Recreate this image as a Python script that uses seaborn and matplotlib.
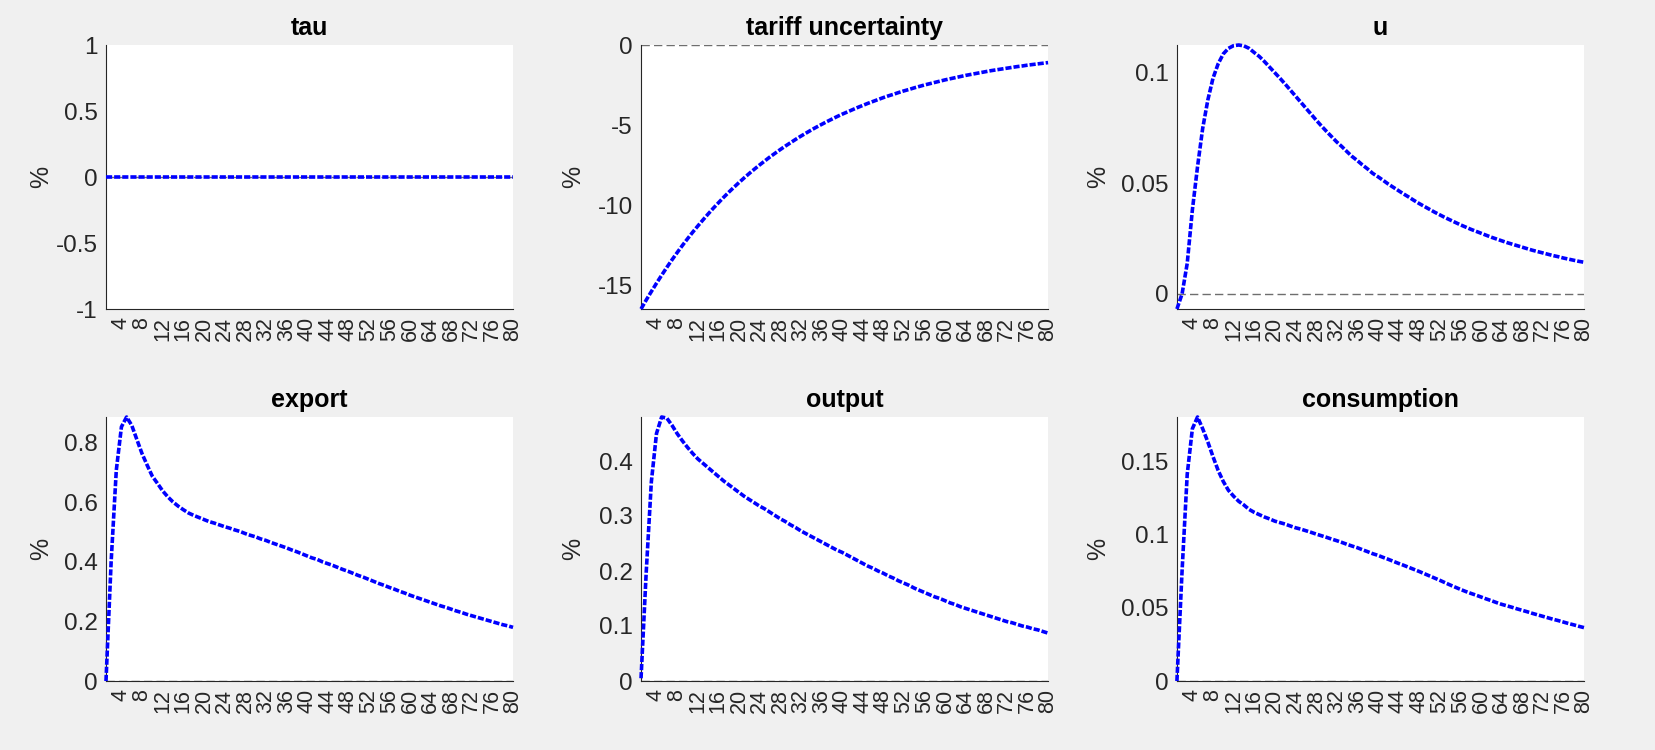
import numpy as np
import matplotlib
matplotlib.use("Agg")
import matplotlib.pyplot as plt
import matplotlib.ticker as mticker
import seaborn as sns

# impulse responses, periods 1..80
periods = np.arange(1, 81)

tau = [0.0] * 80

tariff_uncertainty = [
    -16.50, -15.94, -15.41, -14.89, -14.39, -13.90, -13.43, -12.98, -12.54, -12.12,
    -11.71, -11.32, -10.94, -10.57, -10.21, -9.87, -9.53, -9.21, -8.90, -8.60,
    -8.31, -8.03, -7.76, -7.50, -7.25, -7.00, -6.77, -6.54, -6.32, -6.11,
    -5.90, -5.70, -5.51, -5.32, -5.14, -4.97, -4.80, -4.64, -4.48, -4.33,
    -4.19, -4.05, -3.91, -3.78, -3.65, -3.53, -3.41, -3.29, -3.18, -3.08,
    -2.97, -2.87, -2.78, -2.68, -2.59, -2.50, -2.42, -2.34, -2.26, -2.18,
    -2.11, -2.04, -1.97, -1.90, -1.84, -1.78, -1.72, -1.66, -1.60, -1.55,
    -1.50, -1.45, -1.40, -1.35, -1.31, -1.26, -1.22, -1.18, -1.14, -1.10]

u = [
    -0.0068, 0.0000, 0.0138, 0.0379, 0.0574, 0.0747, 0.0875, 0.0973, 0.1038, 0.1083,
    0.1108, 0.1120, 0.1123, 0.1119, 0.1108, 0.1089, 0.1071, 0.1048, 0.1023, 0.0998,
    0.0973, 0.0947, 0.0920, 0.0893, 0.0866, 0.0839, 0.0812, 0.0785, 0.0759, 0.0734,
    0.0710, 0.0686, 0.0665, 0.0642, 0.0620, 0.0602, 0.0582, 0.0564, 0.0544, 0.0529,
    0.0513, 0.0496, 0.0481, 0.0466, 0.0451, 0.0437, 0.0422, 0.0408, 0.0395, 0.0382,
    0.0369, 0.0357, 0.0345, 0.0334, 0.0323, 0.0312, 0.0302, 0.0292, 0.0283, 0.0274,
    0.0265, 0.0256, 0.0248, 0.0240, 0.0232, 0.0225, 0.0218, 0.0211, 0.0204, 0.0197,
    0.0191, 0.0185, 0.0179, 0.0173, 0.0168, 0.0162, 0.0157, 0.0152, 0.0147, 0.0143]

export = [
    0.000, 0.400, 0.707, 0.853, 0.886, 0.858, 0.810, 0.763, 0.724, 0.687,
    0.663, 0.638, 0.618, 0.601, 0.587, 0.575, 0.564, 0.556, 0.549, 0.542,
    0.535, 0.530, 0.524, 0.518, 0.513, 0.507, 0.502, 0.495, 0.489, 0.484,
    0.477, 0.472, 0.465, 0.459, 0.453, 0.447, 0.440, 0.434, 0.427, 0.420,
    0.413, 0.408, 0.400, 0.394, 0.388, 0.381, 0.374, 0.368, 0.361, 0.354,
    0.348, 0.341, 0.334, 0.327, 0.321, 0.314, 0.308, 0.301, 0.295, 0.288,
    0.282, 0.276, 0.270, 0.264, 0.258, 0.252, 0.247, 0.241, 0.235, 0.230,
    0.224, 0.219, 0.214, 0.209, 0.204, 0.199, 0.194, 0.189, 0.185, 0.180]

output = [
    0.005, 0.197, 0.362, 0.450, 0.480, 0.478, 0.465, 0.450, 0.437, 0.425,
    0.414, 0.404, 0.396, 0.388, 0.380, 0.372, 0.364, 0.357, 0.350, 0.343,
    0.336, 0.330, 0.324, 0.318, 0.313, 0.307, 0.301, 0.295, 0.290, 0.284,
    0.279, 0.273, 0.268, 0.263, 0.258, 0.253, 0.248, 0.243, 0.238, 0.234,
    0.229, 0.224, 0.219, 0.214, 0.209, 0.205, 0.200, 0.196, 0.191, 0.187,
    0.182, 0.178, 0.174, 0.169, 0.165, 0.161, 0.157, 0.153, 0.150, 0.146,
    0.142, 0.139, 0.135, 0.132, 0.129, 0.126, 0.123, 0.120, 0.117, 0.114,
    0.111, 0.108, 0.106, 0.103, 0.100, 0.098, 0.095, 0.093, 0.090, 0.087]

consumption = [
    0.0000, 0.0750, 0.1410, 0.1720, 0.1800, 0.1720, 0.1630, 0.1530, 0.1436, 0.1360,
    0.1300, 0.1260, 0.1225, 0.1200, 0.1170, 0.1150, 0.1134, 0.1118, 0.1105, 0.1090,
    0.1080, 0.1070, 0.1057, 0.1045, 0.1036, 0.1025, 0.1014, 0.1002, 0.0991, 0.0980,
    0.0968, 0.0957, 0.0945, 0.0932, 0.0920, 0.0909, 0.0895, 0.0882, 0.0868, 0.0857,
    0.0843, 0.0830, 0.0816, 0.0802, 0.0789, 0.0775, 0.0761, 0.0747, 0.0732, 0.0717,
    0.0702, 0.0687, 0.0671, 0.0655, 0.0640, 0.0625, 0.0611, 0.0598, 0.0586, 0.0573,
    0.0560, 0.0548, 0.0535, 0.0523, 0.0513, 0.0503, 0.0492, 0.0482, 0.0472, 0.0461,
    0.0451, 0.0441, 0.0431, 0.0421, 0.0412, 0.0402, 0.0392, 0.0383, 0.0373, 0.0364]

titles = ["tau", "tariff uncertainty", "u", "export", "output", "consumption"]
series = [tau, tariff_uncertainty, u, export, output, consumption]
ytick_steps = [0.5, 5, 0.05, 0.2, 0.1, 0.05]
xticks = list(range(4, 81, 4))

sns.set_style("white")
plt.rcParams["font.family"] = ["Liberation Sans", "DejaVu Sans"]
plt.rcParams["axes.unicode_minus"] = False

fig = plt.figure(figsize=(16.56, 7.5), dpi=100, facecolor="#f0f0f0")

lefts = [0.0640, 0.3871, 0.7107]
bottoms = [0.588, 0.092]
label_x = [-0.130, -0.138, -0.165]
dark = "#262626"

for i, (name, vals, step) in enumerate(zip(titles, series, ytick_steps)):
    row, col = divmod(i, 3)
    ax = fig.add_axes([lefts[col], bottoms[row], 0.2458, 0.352])
    ax.set_facecolor("white")

    ax.axhline(0, color="#6e6e6e", lw=1.0, ls=(0, (6, 3)), zorder=1)
    sns.lineplot(x=periods, y=vals, ax=ax, color="blue", linewidth=2.6,
                 linestyle=(0, (1.7, 0.55)), clip_on=False, zorder=3)

    lo, hi = min(0, min(vals)), max(0, max(vals))
    if lo == hi:
        lo, hi = -1, 1
    ax.set_xlim(1, 80)
    ax.set_ylim(lo, hi)
    ax.set_xticks(xticks)
    ax.yaxis.set_major_locator(mticker.MultipleLocator(step))
    ax.yaxis.set_major_formatter(mticker.FormatStrFormatter("%g"))

    ax.set_title(name, fontsize=18, fontweight="bold", color="black", pad=7)
    ax.set_xlabel("")
    ax.set_ylabel("%", fontsize=18, color=dark)
    ax.yaxis.set_label_coords(label_x[col], 0.5)

    ax.tick_params(direction="in", length=3.5, width=0.8, colors=dark, pad=6)
    ax.tick_params(axis="y", labelsize=17.5)
    ax.tick_params(axis="x", labelrotation=90, labelsize=15.5, pad=6)
    for s in ["top", "right"]:
        ax.spines[s].set_visible(False)
    for s in ["left", "bottom"]:
        ax.spines[s].set_color(dark)
        ax.spines[s].set_linewidth(0.8)

fig.savefig("out.png", dpi=100, facecolor=fig.get_facecolor())
